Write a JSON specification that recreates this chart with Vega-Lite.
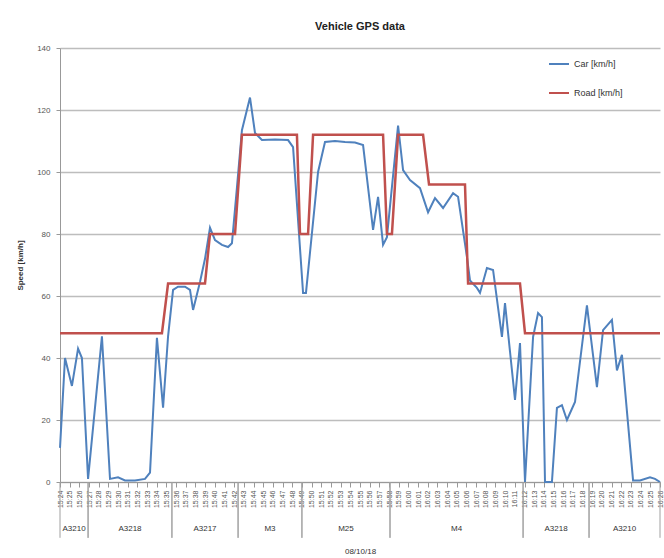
{
  "$schema": "https://vega.github.io/schema/vega-lite/v6.json",
  "width": 600,
  "height": 434,
  "autosize": "none",
  "padding": {"left": 60, "top": 48, "right": 4, "bottom": 76},
  "background": "white",
  "title": {"text": "Vehicle GPS data", "fontSize": 11, "fontWeight": "bold", "color": "#222", "offset": 12, "anchor": "middle"},
  "config": {"view": {"stroke": null}, "font": "Liberation Sans"},
  "datasets": {
    "car": [
      {"time": "2018-10-08T15:24:00", "speed": 11, "series": "Car [km/h]"},
      {"time": "2018-10-08T15:24:31", "speed": 40, "series": "Car [km/h]"},
      {"time": "2018-10-08T15:25:14", "speed": 31, "series": "Car [km/h]"},
      {"time": "2018-10-08T15:25:52", "speed": 43, "series": "Car [km/h]"},
      {"time": "2018-10-08T15:26:16", "speed": 40, "series": "Car [km/h]"},
      {"time": "2018-10-08T15:26:54", "speed": 1, "series": "Car [km/h]"},
      {"time": "2018-10-08T15:28:20", "speed": 47, "series": "Car [km/h]"},
      {"time": "2018-10-08T15:29:10", "speed": 1, "series": "Car [km/h]"},
      {"time": "2018-10-08T15:30:00", "speed": 1.5, "series": "Car [km/h]"},
      {"time": "2018-10-08T15:30:43", "speed": 0.5, "series": "Car [km/h]"},
      {"time": "2018-10-08T15:31:45", "speed": 0.5, "series": "Car [km/h]"},
      {"time": "2018-10-08T15:32:47", "speed": 1, "series": "Car [km/h]"},
      {"time": "2018-10-08T15:33:18", "speed": 3, "series": "Car [km/h]"},
      {"time": "2018-10-08T15:34:01", "speed": 46.5, "series": "Car [km/h]"},
      {"time": "2018-10-08T15:34:39", "speed": 24, "series": "Car [km/h]"},
      {"time": "2018-10-08T15:35:10", "speed": 47, "series": "Car [km/h]"},
      {"time": "2018-10-08T15:35:41", "speed": 62, "series": "Car [km/h]"},
      {"time": "2018-10-08T15:36:12", "speed": 63, "series": "Car [km/h]"},
      {"time": "2018-10-08T15:36:55", "speed": 63, "series": "Car [km/h]"},
      {"time": "2018-10-08T15:37:26", "speed": 62, "series": "Car [km/h]"},
      {"time": "2018-10-08T15:37:45", "speed": 55.5, "series": "Car [km/h]"},
      {"time": "2018-10-08T15:38:28", "speed": 64.5, "series": "Car [km/h]"},
      {"time": "2018-10-08T15:38:59", "speed": 72, "series": "Car [km/h]"},
      {"time": "2018-10-08T15:39:30", "speed": 82, "series": "Car [km/h]"},
      {"time": "2018-10-08T15:40:01", "speed": 78, "series": "Car [km/h]"},
      {"time": "2018-10-08T15:40:44", "speed": 76.5, "series": "Car [km/h]"},
      {"time": "2018-10-08T15:41:22", "speed": 75.8, "series": "Car [km/h]"},
      {"time": "2018-10-08T15:41:46", "speed": 77, "series": "Car [km/h]"},
      {"time": "2018-10-08T15:42:17", "speed": 95, "series": "Car [km/h]"},
      {"time": "2018-10-08T15:42:48", "speed": 113.5, "series": "Car [km/h]"},
      {"time": "2018-10-08T15:43:38", "speed": 124, "series": "Car [km/h]"},
      {"time": "2018-10-08T15:44:09", "speed": 112.6, "series": "Car [km/h]"},
      {"time": "2018-10-08T15:44:52", "speed": 110.3, "series": "Car [km/h]"},
      {"time": "2018-10-08T15:46:13", "speed": 110.5, "series": "Car [km/h]"},
      {"time": "2018-10-08T15:47:34", "speed": 110.3, "series": "Car [km/h]"},
      {"time": "2018-10-08T15:48:05", "speed": 108, "series": "Car [km/h]"},
      {"time": "2018-10-08T15:49:07", "speed": 61, "series": "Car [km/h]"},
      {"time": "2018-10-08T15:49:25", "speed": 61, "series": "Car [km/h]"},
      {"time": "2018-10-08T15:50:40", "speed": 100, "series": "Car [km/h]"},
      {"time": "2018-10-08T15:51:23", "speed": 109.7, "series": "Car [km/h]"},
      {"time": "2018-10-08T15:52:25", "speed": 110, "series": "Car [km/h]"},
      {"time": "2018-10-08T15:53:27", "speed": 109.7, "series": "Car [km/h]"},
      {"time": "2018-10-08T15:54:29", "speed": 109.5, "series": "Car [km/h]"},
      {"time": "2018-10-08T15:55:19", "speed": 108.7, "series": "Car [km/h]"},
      {"time": "2018-10-08T15:56:21", "speed": 81.3, "series": "Car [km/h]"},
      {"time": "2018-10-08T15:56:52", "speed": 92, "series": "Car [km/h]"},
      {"time": "2018-10-08T15:57:23", "speed": 76.5, "series": "Car [km/h]"},
      {"time": "2018-10-08T15:57:47", "speed": 79, "series": "Car [km/h]"},
      {"time": "2018-10-08T15:58:56", "speed": 115, "series": "Car [km/h]"},
      {"time": "2018-10-08T15:59:27", "speed": 100.6, "series": "Car [km/h]"},
      {"time": "2018-10-08T16:00:10", "speed": 97.4, "series": "Car [km/h]"},
      {"time": "2018-10-08T16:01:12", "speed": 94.8, "series": "Car [km/h]"},
      {"time": "2018-10-08T16:02:02", "speed": 87, "series": "Car [km/h]"},
      {"time": "2018-10-08T16:02:45", "speed": 91.6, "series": "Car [km/h]"},
      {"time": "2018-10-08T16:03:35", "speed": 88.4, "series": "Car [km/h]"},
      {"time": "2018-10-08T16:04:37", "speed": 93.2, "series": "Car [km/h]"},
      {"time": "2018-10-08T16:05:08", "speed": 92, "series": "Car [km/h]"},
      {"time": "2018-10-08T16:06:03", "speed": 72.6, "series": "Car [km/h]"},
      {"time": "2018-10-08T16:06:22", "speed": 65, "series": "Car [km/h]"},
      {"time": "2018-10-08T16:07:05", "speed": 62.6, "series": "Car [km/h]"},
      {"time": "2018-10-08T16:07:24", "speed": 61, "series": "Car [km/h]"},
      {"time": "2018-10-08T16:08:07", "speed": 69, "series": "Car [km/h]"},
      {"time": "2018-10-08T16:08:45", "speed": 68.4, "series": "Car [km/h]"},
      {"time": "2018-10-08T16:09:40", "speed": 46.8, "series": "Car [km/h]"},
      {"time": "2018-10-08T16:09:59", "speed": 57.7, "series": "Car [km/h]"},
      {"time": "2018-10-08T16:11:01", "speed": 26.5, "series": "Car [km/h]"},
      {"time": "2018-10-08T16:11:32", "speed": 44.8, "series": "Car [km/h]"},
      {"time": "2018-10-08T16:12:03", "speed": 0, "series": "Car [km/h]"},
      {"time": "2018-10-08T16:12:53", "speed": 46.8, "series": "Car [km/h]"},
      {"time": "2018-10-08T16:13:24", "speed": 54.5, "series": "Car [km/h]"},
      {"time": "2018-10-08T16:13:48", "speed": 53.2, "series": "Car [km/h]"},
      {"time": "2018-10-08T16:14:07", "speed": 0, "series": "Car [km/h]"},
      {"time": "2018-10-08T16:14:50", "speed": 0, "series": "Car [km/h]"},
      {"time": "2018-10-08T16:15:21", "speed": 23.9, "series": "Car [km/h]"},
      {"time": "2018-10-08T16:15:52", "speed": 24.8, "series": "Car [km/h]"},
      {"time": "2018-10-08T16:16:23", "speed": 20, "series": "Car [km/h]"},
      {"time": "2018-10-08T16:17:13", "speed": 25.8, "series": "Car [km/h]"},
      {"time": "2018-10-08T16:18:27", "speed": 57, "series": "Car [km/h]"},
      {"time": "2018-10-08T16:19:29", "speed": 30.6, "series": "Car [km/h]"},
      {"time": "2018-10-08T16:20:07", "speed": 49, "series": "Car [km/h]"},
      {"time": "2018-10-08T16:21:02", "speed": 52.3, "series": "Car [km/h]"},
      {"time": "2018-10-08T16:21:33", "speed": 36, "series": "Car [km/h]"},
      {"time": "2018-10-08T16:22:04", "speed": 41, "series": "Car [km/h]"},
      {"time": "2018-10-08T16:23:13", "speed": 0.5, "series": "Car [km/h]"},
      {"time": "2018-10-08T16:23:56", "speed": 0.5, "series": "Car [km/h]"},
      {"time": "2018-10-08T16:24:58", "speed": 1.5, "series": "Car [km/h]"},
      {"time": "2018-10-08T16:25:29", "speed": 1, "series": "Car [km/h]"},
      {"time": "2018-10-08T16:26:00", "speed": 0, "series": "Car [km/h]"}
    ],
    "road": [
      {"time": "2018-10-08T15:24:00", "speed": 48, "series": "Road [km/h]"},
      {"time": "2018-10-08T15:34:32", "speed": 48, "series": "Road [km/h]"},
      {"time": "2018-10-08T15:35:10", "speed": 64, "series": "Road [km/h]"},
      {"time": "2018-10-08T15:38:59", "speed": 64, "series": "Road [km/h]"},
      {"time": "2018-10-08T15:39:30", "speed": 80, "series": "Road [km/h]"},
      {"time": "2018-10-08T15:42:05", "speed": 80, "series": "Road [km/h]"},
      {"time": "2018-10-08T15:42:48", "speed": 112, "series": "Road [km/h]"},
      {"time": "2018-10-08T15:48:29", "speed": 112, "series": "Road [km/h]"},
      {"time": "2018-10-08T15:48:48", "speed": 80, "series": "Road [km/h]"},
      {"time": "2018-10-08T15:49:38", "speed": 80, "series": "Road [km/h]"},
      {"time": "2018-10-08T15:50:09", "speed": 112, "series": "Road [km/h]"},
      {"time": "2018-10-08T15:57:23", "speed": 112, "series": "Road [km/h]"},
      {"time": "2018-10-08T15:57:47", "speed": 80, "series": "Road [km/h]"},
      {"time": "2018-10-08T15:58:18", "speed": 80, "series": "Road [km/h]"},
      {"time": "2018-10-08T15:58:56", "speed": 112, "series": "Road [km/h]"},
      {"time": "2018-10-08T16:01:31", "speed": 112, "series": "Road [km/h]"},
      {"time": "2018-10-08T16:02:08", "speed": 96, "series": "Road [km/h]"},
      {"time": "2018-10-08T16:05:51", "speed": 96, "series": "Road [km/h]"},
      {"time": "2018-10-08T16:06:10", "speed": 64, "series": "Road [km/h]"},
      {"time": "2018-10-08T16:11:32", "speed": 64, "series": "Road [km/h]"},
      {"time": "2018-10-08T16:12:03", "speed": 48, "series": "Road [km/h]"},
      {"time": "2018-10-08T16:26:00", "speed": 48, "series": "Road [km/h]"}
    ],
    "groups": [
      {"road": "A3210", "start": "2018-10-08T15:24:00", "end": "2018-10-08T15:26:54"},
      {"road": "A3218", "start": "2018-10-08T15:26:54", "end": "2018-10-08T15:35:34"},
      {"road": "A3217", "start": "2018-10-08T15:35:34", "end": "2018-10-08T15:42:24"},
      {"road": "M3", "start": "2018-10-08T15:42:24", "end": "2018-10-08T15:49:00"},
      {"road": "M25", "start": "2018-10-08T15:49:00", "end": "2018-10-08T15:58:06"},
      {"road": "M4", "start": "2018-10-08T15:58:06", "end": "2018-10-08T16:11:51"},
      {"road": "A3218", "start": "2018-10-08T16:11:51", "end": "2018-10-08T16:18:40"},
      {"road": "A3210", "start": "2018-10-08T16:18:40", "end": "2018-10-08T16:26:00"}
    ]
  },
  "layer": [
    {
      "data": {"name": "car"},
      "mark": {"type": "line", "strokeWidth": 2},
      "encoding": {
        "x": {
          "field": "time", "type": "temporal",
          "scale": {"nice": false},
          "axis": {"title": "08/10/18", "format": "%H:%M", "tickCount": 62, "labelAngle": 270, "labelFontSize": 7, "labelColor": "#555", "labelOverlap": false, "labelPadding": 3, "tickSize": 5, "tickColor": "#999", "domainColor": "#999", "grid": false, "titleFontSize": 8, "titleFontWeight": "normal", "titleColor": "#333", "titlePadding": 40}
        },
        "y": {
          "field": "speed", "type": "quantitative",
          "scale": {"domain": [0, 140]},
          "axis": {"title": "Speed [km/h]", "values": [0, 20, 40, 60, 80, 100, 120, 140], "labelFontSize": 8, "labelColor": "#555", "labelPadding": 6, "tickSize": 4, "tickColor": "#999", "domainColor": "#999", "gridColor": "#BDBDBD", "gridWidth": 1.5, "titleFontSize": 8, "titleFontWeight": "bold", "titleColor": "#333", "titlePadding": 12}
        },
        "color": {
          "field": "series", "type": "nominal",
          "scale": {"domain": ["Car [km/h]", "Road [km/h]"], "range": ["#4F81BD", "#C0504D"]},
          "legend": {"orient": "none", "legendX": 488, "legendY": 5, "title": null, "symbolType": "stroke", "symbolSize": 400, "symbolStrokeWidth": 2, "labelFontSize": 9, "labelColor": "#333", "rowPadding": 13, "labelOffset": 4}
        }
      }
    },
    {
      "data": {"name": "road"},
      "mark": {"type": "line", "strokeWidth": 2.5},
      "encoding": {
        "x": {"field": "time", "type": "temporal"},
        "y": {"field": "speed", "type": "quantitative"},
        "color": {"field": "series", "type": "nominal"}
      }
    },
    {
      "data": {"name": "groups"},
      "mark": {"type": "rule", "color": "#A0A0A0", "strokeWidth": 1},
      "encoding": {
        "x": {"field": "start", "type": "temporal"},
        "y": {"datum": 0},
        "y2": {"datum": -18}
      }
    },
    {
      "data": {"name": "groups"},
      "mark": {"type": "rule", "color": "#A0A0A0", "strokeWidth": 1},
      "encoding": {
        "x": {"field": "end", "type": "temporal"},
        "y": {"datum": 0},
        "y2": {"datum": -18}
      }
    },
    {
      "data": {"name": "groups"},
      "transform": [{"calculate": "(time(datum.start) + time(datum.end)) / 2", "as": "mid"}],
      "mark": {"type": "text", "fontSize": 8, "color": "#333", "baseline": "middle"},
      "encoding": {
        "x": {"field": "mid", "type": "temporal"},
        "y": {"datum": -15},
        "text": {"field": "road"}
      }
    }
  ]
}
